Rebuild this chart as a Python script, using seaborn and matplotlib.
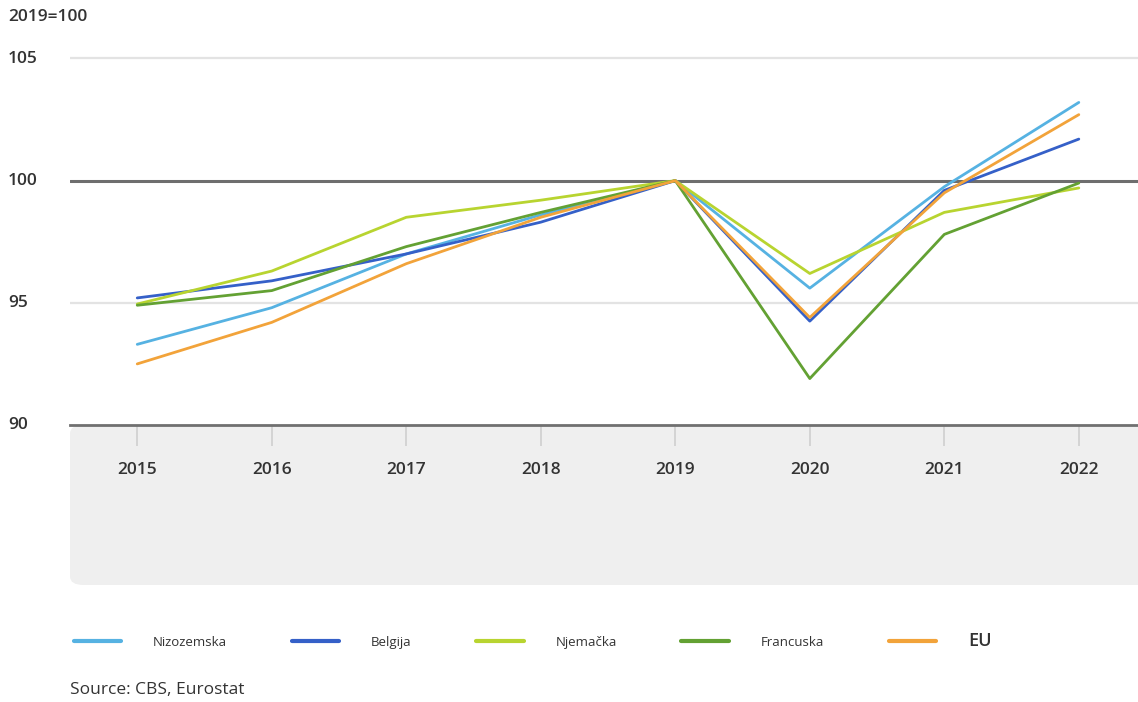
import numpy as np
import pandas as pd
import matplotlib
matplotlib.use("Agg")
import matplotlib.pyplot as plt
from matplotlib.patches import FancyBboxPatch
import seaborn as sns

years = [2015, 2016, 2017, 2018, 2019, 2020, 2021, 2022]
nizozemska = [93.3, 94.8, 97.0, 98.6, 100.0, 95.6, 99.75, 103.2]
belgija = [95.2, 95.9, 97.0, 98.3, 100.0, 94.25, 99.6, 101.7]
njemacka = [94.95, 96.3, 98.5, 99.2, 100.0, 96.2, 98.7, 99.7]
francuska = [94.9, 95.5, 97.3, 98.7, 100.0, 91.9, 97.8, 99.9]
eu = [92.5, 94.2, 96.6, 98.5, 100.0, 94.4, 99.5, 102.7]

series = ["Nizozemska", "Belgija", "Njemačka", "Francuska", "EU"]
colors = ["#56b2e2", "#3560c8", "#b8d430", "#63a133", "#f2a33a"]
y_ticks = [90, 95, 100, 105]

df = pd.DataFrame({"year": years, "Nizozemska": nizozemska, "Belgija": belgija,
                   "Njemačka": njemacka, "Francuska": francuska, "EU": eu})
long_df = df.melt(id_vars="year", var_name="zemlja", value_name="index")

sns.set_style("white")
plt.rcParams["font.family"] = ["Open Sans", "DejaVu Sans"]

W, H = 1138, 702
fig = plt.figure(figsize=(W / 100, H / 100), dpi=100)

# grey panel below the plot area
panel = FancyBboxPatch((70 / W, 1 - 585 / H), 1.2, (585 - 425) / H,
                       boxstyle="round,pad=0,rounding_size=0.012",
                       transform=fig.transFigure, facecolor="#efefef",
                       edgecolor="none", zorder=-5)
fig.patches.append(panel)

ax = fig.add_axes([70 / W, 1 - 425 / H, 1068 / W, (425 - 34) / H])
ax.set_facecolor("none")
ax.set_zorder(2)

for v in [95, 105]:
    ax.axhline(v, color="#e3e3e3", lw=1.6, zorder=1)
ax.axhline(100, color="#6e6e6e", lw=2.2, zorder=1)

sns.lineplot(data=long_df, x="year", y="index", hue="zemlja", hue_order=series,
             palette=colors, lw=2, ax=ax, legend=True, zorder=3)

ax.set_xlim(2014.5, 2022.44)
ax.set_ylim(90, 106)
ax.set_xticks(years)
ax.set_xticklabels([str(y) for y in years], fontsize=12.5, fontweight="semibold",
                   color="#333333")
ax.set_yticks([])
ax.tick_params(axis="x", bottom=True, direction="out", length=15, width=1.2,
               color="#cfcfcf", pad=12)
ax.set_xlabel("")
ax.set_ylabel("")
for s in ["top", "right", "left"]:
    ax.spines[s].set_visible(False)
ax.spines["bottom"].set_color("#707070")
ax.spines["bottom"].set_linewidth(2)

# y tick labels on the left edge
for v in y_ticks:
    yf = 1 - (425 - (v - 90) * 24.4) / H
    fig.text(8 / W, yf, str(v), fontsize=12.5, fontweight="semibold",
             color="#333333", va="center", ha="left")
fig.text(8 / W, 1 - 17 / H, "2019=100", fontsize=12.5, fontweight="semibold",
         color="#333333", va="center", ha="left")

handles, labels = ax.get_legend_handles_labels()
ax.get_legend().remove()
for h in handles:
    h.set_linewidth(3)
leg = fig.legend(handles, labels, loc="center left", bbox_to_anchor=(62 / W, 1 - 641 / H),
                 ncol=5, frameon=False, fontsize=9.5, handlelength=3.6,
                 handletextpad=2.4, columnspacing=4.9)
for t in leg.get_texts():
    t.set_color("#333333")
    if t.get_text() == "EU":
        t.set_fontsize(13)
        t.set_fontweight("semibold")

fig.text(70 / W, 1 - 690 / H, "Source: CBS, Eurostat", fontsize=12.5,
         color="#333333", va="center", ha="left")

fig.savefig("out.png", dpi=100)
